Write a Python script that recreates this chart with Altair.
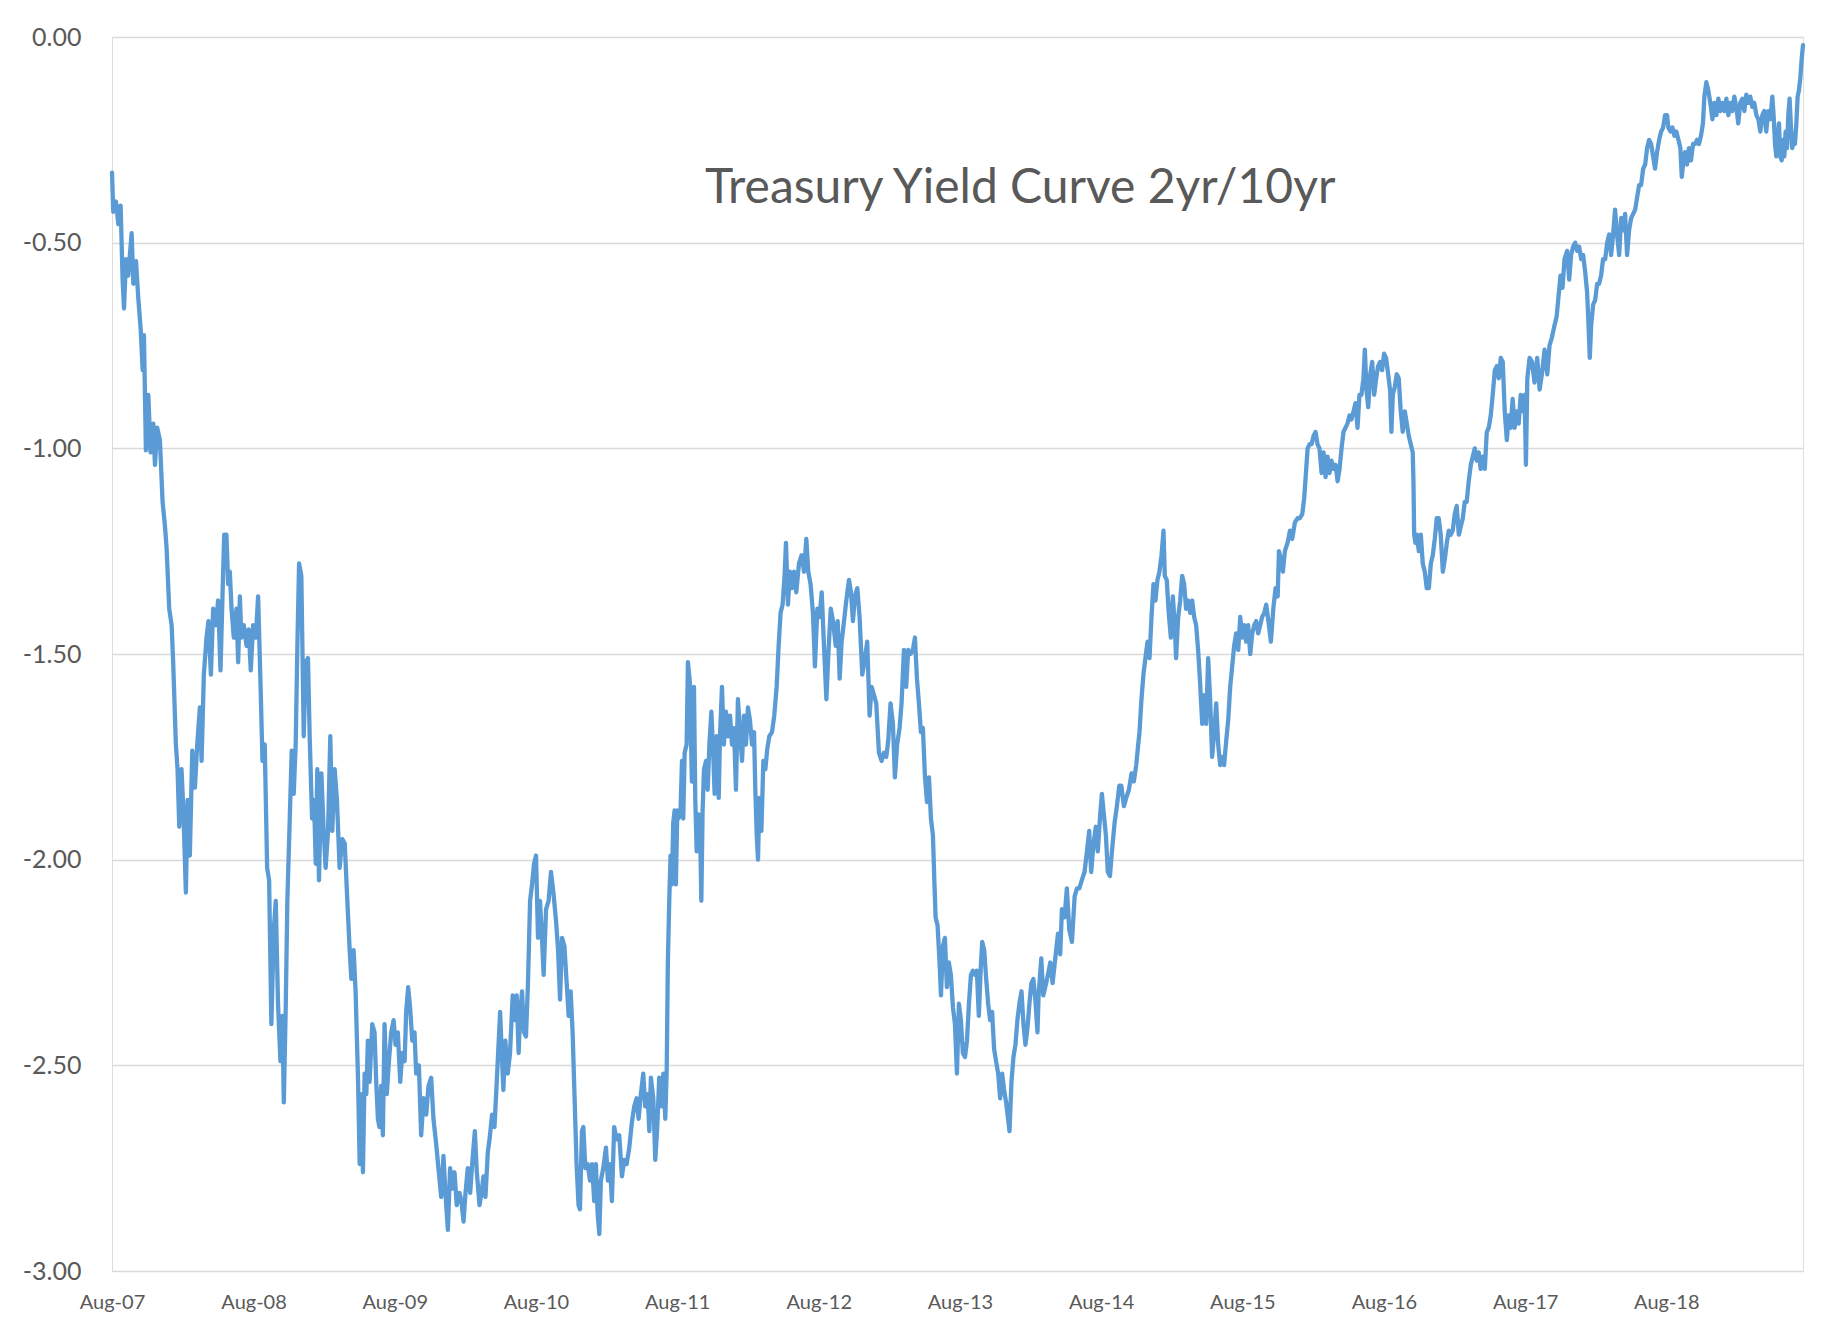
import altair as alt
import pandas as pd
import numpy as np

# Years elapsed since 1 Aug 2007 (T) and 2yr-minus-10yr spread (V)
T1 = [0.0,0.009,0.028,0.045,0.061,0.075,0.085,0.099,0.115,0.139,
      0.151,0.170,0.186,0.203,0.217,0.226,0.240,0.257,0.273,0.292,
      0.304,0.320,0.339,0.358,0.375,0.386,0.405,0.422,0.433,0.452,
      0.464,0.476,0.492,0.504,0.523,0.535,0.551,0.568,0.587,0.603,
      0.622,0.634,0.650,0.669,0.683,0.700,0.716,0.735,0.751,0.768,
      0.782,0.794,0.810,0.822,0.834,0.846,0.862,0.881,0.893,0.905,
      0.916,0.933,0.952,0.968,0.982,0.999,1.018,1.034,1.051,1.065,
      1.081,1.098,1.112,1.128,1.145,1.159,1.175,1.192,1.206,1.216,
      1.230,1.241,1.258,1.272,1.286,1.300,1.312,1.324,1.340,1.357,
      1.371,1.387,1.399,1.416,1.430,1.442,1.453,1.465,1.482,1.498,
      1.512,1.529,1.545,1.559,1.576,1.592,1.611,1.630,1.647,1.663]
V1 = [-0.33,-0.425,-0.40,-0.455,-0.41,-0.59,-0.66,-0.54,-0.58,-0.477,
      -0.60,-0.545,-0.635,-0.71,-0.81,-0.725,-1.005,-0.87,-1.01,-0.94,
      -1.04,-0.95,-0.98,-1.13,-1.19,-1.24,-1.39,-1.43,-1.52,-1.72,
      -1.78,-1.92,-1.78,-1.87,-2.08,-1.855,-1.99,-1.735,-1.825,-1.72,
      -1.63,-1.76,-1.55,-1.46,-1.42,-1.55,-1.39,-1.43,-1.37,-1.54,
      -1.36,-1.21,-1.21,-1.33,-1.30,-1.39,-1.46,-1.39,-1.52,-1.36,
      -1.46,-1.43,-1.48,-1.44,-1.54,-1.43,-1.46,-1.36,-1.57,-1.76,
      -1.72,-2.02,-2.05,-2.40,-2.17,-2.10,-2.35,-2.49,-2.38,-2.59,
      -2.35,-2.10,-1.90,-1.735,-1.84,-1.72,-1.48,-1.28,-1.31,-1.70,
      -1.52,-1.51,-1.70,-1.90,-1.855,-2.01,-1.78,-2.05,-1.79,-1.93,
      -2.02,-1.93,-1.70,-1.93,-1.78,-1.855,-2.02,-1.95,-1.96,-2.08]

T2 = [1.682,1.694,1.710,1.724,1.741,1.753,1.764,1.776,1.788,1.800,
      1.811,1.823,1.842,1.858,1.870,1.882,1.893,1.905,1.917,1.929,
      1.945,1.960,1.976,1.993,2.007,2.023,2.040,2.054,2.071,2.082,
      2.096,2.110,2.125,2.141,2.153,2.172,2.188,2.205,2.224,2.240,
      2.259,2.275,2.294,2.313,2.330,2.346,2.360,2.377,2.393,2.408,
      2.424,2.440,2.459,2.473,2.488,2.502,2.518,2.535,2.549,2.568,
      2.582,2.601,2.615,2.629,2.643,2.660,2.672,2.690,2.707,2.723,
      2.737,2.747,2.761,2.770,2.784,2.801,2.817,2.836,2.850,2.864,
      2.878,2.888,2.902,2.916,2.930,2.944,2.959,2.973,2.987,3.001,
      3.015,3.029,3.043,3.055,3.072,3.090,3.107,3.124,3.143,3.157,
      3.171,3.185,3.202,3.218,3.232,3.246,3.260,3.274,3.288,3.302]
V2 = [-2.22,-2.29,-2.22,-2.32,-2.53,-2.74,-2.57,-2.76,-2.52,-2.57,
      -2.44,-2.54,-2.40,-2.42,-2.54,-2.63,-2.65,-2.55,-2.67,-2.40,
      -2.57,-2.49,-2.42,-2.39,-2.45,-2.42,-2.54,-2.47,-2.49,-2.37,
      -2.31,-2.36,-2.44,-2.42,-2.52,-2.50,-2.67,-2.58,-2.62,-2.55,
      -2.53,-2.63,-2.69,-2.76,-2.82,-2.72,-2.81,-2.90,-2.75,-2.80,
      -2.76,-2.84,-2.81,-2.83,-2.88,-2.81,-2.75,-2.81,-2.74,-2.66,
      -2.76,-2.84,-2.81,-2.77,-2.82,-2.71,-2.68,-2.62,-2.65,-2.54,
      -2.44,-2.37,-2.49,-2.56,-2.44,-2.52,-2.47,-2.33,-2.39,-2.33,
      -2.47,-2.38,-2.32,-2.42,-2.43,-2.30,-2.10,-2.06,-2.01,-1.99,
      -2.19,-2.10,-2.19,-2.28,-2.12,-2.10,-2.03,-2.08,-2.15,-2.22,
      -2.34,-2.19,-2.21,-2.30,-2.38,-2.32,-2.42,-2.58,-2.74,-2.84]

T3 = [3.312,3.326,3.336,3.350,3.366,3.383,3.397,3.413,3.425,3.437,
      3.449,3.460,3.477,3.496,3.510,3.524,3.538,3.554,3.571,3.590,
      3.609,3.625,3.642,3.661,3.679,3.696,3.713,3.727,3.743,3.760,
      3.774,3.791,3.803,3.814,3.831,3.845,3.859,3.873,3.888,3.902,
      3.916,3.926,3.934,3.944,3.953,3.963,3.972,3.982,3.991,4.001,
      4.010,4.024,4.034,4.043,4.053,4.067,4.076,4.090,4.104,4.119,
      4.128,4.138,4.152,4.161,4.171,4.180,4.190,4.204,4.216,4.228,
      4.242,4.256,4.265,4.279,4.294,4.303,4.317,4.331,4.345,4.360,
      4.374,4.388,4.402,4.416,4.430,4.445,4.459,4.473,4.487,4.501,
      4.515,4.530,4.544,4.553,4.563,4.572,4.582,4.596,4.610,4.624,
      4.638,4.652,4.671,4.687,4.704,4.718,4.732,4.746,4.760,4.770,
      4.784,4.798,4.812,4.827,4.843,4.862,4.881,4.898,4.914]
V3 = [-2.85,-2.66,-2.65,-2.75,-2.74,-2.78,-2.74,-2.83,-2.74,-2.86,
      -2.91,-2.78,-2.75,-2.70,-2.78,-2.74,-2.83,-2.65,-2.68,-2.67,
      -2.77,-2.73,-2.74,-2.70,-2.64,-2.60,-2.58,-2.63,-2.57,-2.52,
      -2.60,-2.57,-2.66,-2.53,-2.58,-2.73,-2.65,-2.53,-2.60,-2.52,
      -2.63,-2.51,-2.25,-2.10,-1.99,-2.06,-1.91,-1.88,-2.06,-1.88,
      -1.90,-1.88,-1.76,-1.90,-1.74,-1.72,-1.52,-1.57,-1.81,-1.58,
      -1.85,-1.98,-1.89,-1.90,-2.10,-1.88,-1.78,-1.76,-1.83,-1.72,
      -1.64,-1.75,-1.84,-1.70,-1.85,-1.70,-1.58,-1.72,-1.64,-1.70,
      -1.65,-1.72,-1.68,-1.83,-1.61,-1.69,-1.76,-1.65,-1.72,-1.63,
      -1.66,-1.72,-1.69,-1.83,-1.94,-2.00,-1.85,-1.93,-1.76,-1.78,
      -1.73,-1.70,-1.69,-1.65,-1.58,-1.48,-1.40,-1.38,-1.31,-1.23,
      -1.38,-1.30,-1.34,-1.30,-1.35,-1.28,-1.26,-1.30,-1.22]

T4 = [4.928,4.944,4.961,4.975,4.992,5.008,5.023,5.039,5.056,5.070,
      5.087,5.103,5.122,5.136,5.150,5.164,5.181,5.197,5.216,5.230,
      5.244,5.258,5.275,5.291,5.310,5.329,5.345,5.362,5.376,5.393,
      5.409,5.428,5.447,5.463,5.480,5.494,5.510,5.527,5.541,5.557,
      5.574,5.588,5.605,5.621,5.635,5.652,5.668,5.683,5.697,5.711,
      5.725,5.739,5.754,5.768,5.782,5.796,5.810,5.820,5.829,5.843,
      5.857,5.867,5.881,5.895,5.909,5.923,5.937,5.952,5.966,5.980,
      5.994,6.008,6.022,6.037,6.051,6.065,6.079,6.093,6.107,6.121,
      6.135,6.149,6.159,6.173,6.187,6.201,6.215,6.229,6.243,6.257,
      6.272,6.286,6.300,6.314,6.328,6.342,6.352,6.366,6.380,6.394,
      6.408,6.422,6.437,6.451,6.465,6.479,6.493,6.507,6.521,6.535,
      6.550]
V4 = [-1.30,-1.33,-1.40,-1.53,-1.39,-1.41,-1.35,-1.48,-1.61,-1.50,
      -1.39,-1.42,-1.48,-1.42,-1.56,-1.47,-1.42,-1.37,-1.32,-1.35,
      -1.42,-1.36,-1.34,-1.41,-1.55,-1.51,-1.47,-1.65,-1.58,-1.60,
      -1.62,-1.74,-1.76,-1.74,-1.75,-1.71,-1.62,-1.67,-1.80,-1.72,
      -1.68,-1.62,-1.49,-1.58,-1.49,-1.50,-1.49,-1.46,-1.56,-1.62,
      -1.69,-1.68,-1.80,-1.86,-1.80,-1.90,-1.94,-2.05,-2.14,-2.16,
      -2.25,-2.33,-2.21,-2.19,-2.31,-2.25,-2.28,-2.36,-2.40,-2.52,
      -2.35,-2.39,-2.47,-2.48,-2.44,-2.35,-2.28,-2.27,-2.28,-2.27,
      -2.38,-2.26,-2.20,-2.22,-2.29,-2.35,-2.39,-2.37,-2.46,-2.49,
      -2.52,-2.58,-2.52,-2.56,-2.59,-2.63,-2.66,-2.54,-2.48,-2.45,
      -2.39,-2.35,-2.32,-2.40,-2.45,-2.41,-2.35,-2.30,-2.29,-2.34,
      -2.42]

T5 = [6.558,6.577,6.591,6.605,6.624,6.641,6.657,6.676,6.695,6.711,
      6.723,6.742,6.758,6.775,6.794,6.813,6.829,6.846,6.864,6.883,
      6.900,6.916,6.930,6.947,6.963,6.977,6.994,7.006,7.020,7.034,
      7.048,7.063,7.077,7.096,7.112,7.129,7.143,7.162,7.178,7.197,
      7.216,7.232,7.249,7.263,7.272,7.286,7.300,7.314,7.329,7.343,
      7.357,7.371,7.385,7.399,7.413,7.428,7.442,7.451,7.465,7.479,
      7.494,7.508,7.522,7.531,7.546,7.560,7.574,7.588,7.602,7.616,
      7.631,7.645,7.659,7.673,7.687,7.701,7.716,7.730,7.744,7.758,
      7.772,7.786,7.801,7.815,7.829,7.843,7.857,7.871,7.886,7.900,
      7.914,7.928,7.942,7.956,7.971,7.985,7.999,8.013,8.027,8.041,
      8.056,8.070,8.084,8.098,8.112,8.126,8.140,8.155,8.169]
V5 = [-2.33,-2.24,-2.33,-2.31,-2.28,-2.25,-2.30,-2.24,-2.18,-2.23,
      -2.12,-2.14,-2.07,-2.17,-2.20,-2.09,-2.07,-2.07,-2.05,-2.03,
      -1.98,-1.93,-2.03,-1.96,-1.92,-1.98,-1.89,-1.84,-1.89,-1.94,
      -2.03,-2.04,-1.98,-1.91,-1.87,-1.82,-1.82,-1.87,-1.85,-1.83,
      -1.79,-1.81,-1.77,-1.72,-1.69,-1.61,-1.55,-1.51,-1.47,-1.51,
      -1.41,-1.33,-1.37,-1.32,-1.30,-1.26,-1.20,-1.31,-1.32,-1.40,
      -1.46,-1.36,-1.43,-1.51,-1.41,-1.37,-1.31,-1.33,-1.39,-1.37,
      -1.40,-1.37,-1.41,-1.43,-1.49,-1.57,-1.67,-1.60,-1.67,-1.51,
      -1.61,-1.75,-1.69,-1.62,-1.72,-1.77,-1.75,-1.77,-1.71,-1.66,
      -1.58,-1.53,-1.48,-1.45,-1.49,-1.41,-1.46,-1.43,-1.47,-1.43,
      -1.50,-1.45,-1.43,-1.42,-1.45,-1.43,-1.41,-1.40,-1.38]

T6 = [8.188,8.202,8.219,8.235,8.250,8.259,8.273,8.287,8.301,8.320,
      8.337,8.353,8.372,8.391,8.407,8.424,8.438,8.452,8.462,8.476,
      8.490,8.504,8.518,8.532,8.546,8.561,8.575,8.589,8.603,8.617,
      8.631,8.645,8.660,8.674,8.688,8.702,8.716,8.730,8.744,8.758,
      8.772,8.787,8.801,8.815,8.829,8.843,8.857,8.867,8.879,8.891,
      8.905,8.919,8.933,8.947,8.961,8.975,8.989,9.003,9.017,9.032,
      9.046,9.055,9.065,9.079,9.093,9.107,9.121,9.135,9.150,9.164,
      9.178,9.192,9.206,9.211,9.216,9.225,9.235,9.249,9.263,9.277,
      9.291,9.305,9.320,9.334,9.348,9.362,9.376,9.390,9.404,9.419,
      9.433,9.447,9.461,9.475,9.489,9.503,9.517,9.532,9.546,9.560,
      9.574,9.588,9.602,9.617,9.631,9.645,9.659,9.673,9.687,9.702,
      9.716,9.730,9.744,9.758,9.772,9.787,9.801,9.815,9.829,9.843,
      9.857,9.872]
V6 = [-1.43,-1.47,-1.39,-1.34,-1.36,-1.25,-1.27,-1.30,-1.25,-1.23,
      -1.20,-1.22,-1.18,-1.17,-1.17,-1.16,-1.12,-1.05,-1.00,-0.99,
      -0.99,-0.97,-0.96,-0.99,-1.00,-1.06,-1.01,-1.07,-1.02,-1.06,
      -1.03,-1.05,-1.04,-1.08,-1.05,-1.00,-0.96,-0.95,-0.94,-0.92,
      -0.93,-0.91,-0.89,-0.95,-0.87,-0.87,-0.83,-0.76,-0.86,-0.90,
      -0.82,-0.79,-0.87,-0.83,-0.80,-0.79,-0.81,-0.77,-0.78,-0.82,
      -0.86,-0.96,-0.87,-0.85,-0.82,-0.83,-0.91,-0.96,-0.91,-0.94,
      -0.97,-0.99,-1.01,-1.08,-1.21,-1.23,-1.21,-1.25,-1.21,-1.28,
      -1.30,-1.34,-1.34,-1.28,-1.26,-1.22,-1.17,-1.17,-1.21,-1.30,
      -1.27,-1.23,-1.20,-1.21,-1.20,-1.16,-1.14,-1.21,-1.19,-1.17,
      -1.13,-1.13,-1.08,-1.04,-1.02,-1.00,-1.03,-1.01,-1.05,-1.02,
      -1.05,-0.96,-0.95,-0.92,-0.87,-0.81,-0.80,-0.83,-0.78,-0.79,
      -0.91,-0.98]

T7 = [9.885,9.899,9.913,9.927,9.941,9.956,9.970,9.984,9.998,10.007,
      10.017,10.033,10.050,10.068,10.087,10.104,10.120,10.139,10.158,10.174,
      10.191,10.210,10.224,10.238,10.252,10.266,10.280,10.299,10.313,10.327,
      10.341,10.356,10.370,10.384,10.398,10.412,10.426,10.440,10.450,10.459,
      10.469,10.483,10.497,10.511,10.525,10.539,10.553,10.568,10.582,10.596,
      10.610,10.624,10.638,10.652,10.667,10.681,10.695,10.709,10.723,10.737,
      10.752,10.766,10.780,10.794,10.808,10.822,10.837,10.851,10.865,10.879,
      10.893,10.907,10.921,10.935,10.950,10.964,10.978,10.992,11.006,11.015,
      11.030,11.044,11.058,11.072,11.086,11.100,11.110,11.119,11.133,11.147,
      11.161,11.175,11.190,11.204,11.218,11.232,11.246,11.260,11.270,11.284,
      11.298,11.312,11.327,11.341,11.355,11.369,11.383,11.397,11.411,11.426,
      11.440,11.454,11.468,11.482,11.496,11.510,11.524,11.539,11.553,11.567,
      11.581,11.595,11.609,11.623,11.638,11.652,11.666,11.680,11.694,11.708,
      11.722,11.737,11.751,11.760,11.770,11.779,11.788,11.798,11.807,11.817,
      11.826,11.836,11.845,11.855,11.864,11.873,11.883,11.892,11.902,11.911,
      11.921,11.930,11.939,11.949,11.958,11.968]
V7 = [-0.92,-0.95,-0.88,-0.95,-0.91,-0.94,-0.87,-0.91,-0.87,-1.04,
      -0.83,-0.78,-0.79,-0.84,-0.78,-0.857,-0.82,-0.76,-0.82,-0.75,
      -0.73,-0.70,-0.68,-0.63,-0.58,-0.61,-0.54,-0.52,-0.59,-0.53,
      -0.51,-0.50,-0.52,-0.51,-0.54,-0.53,-0.57,-0.62,-0.70,-0.78,
      -0.70,-0.65,-0.64,-0.60,-0.60,-0.58,-0.54,-0.54,-0.50,-0.48,
      -0.53,-0.48,-0.42,-0.48,-0.53,-0.44,-0.47,-0.43,-0.53,-0.47,
      -0.44,-0.43,-0.42,-0.39,-0.36,-0.36,-0.32,-0.31,-0.27,-0.25,
      -0.26,-0.29,-0.32,-0.28,-0.25,-0.23,-0.22,-0.19,-0.19,-0.22,
      -0.23,-0.22,-0.24,-0.23,-0.25,-0.27,-0.34,-0.31,-0.28,-0.31,
      -0.27,-0.30,-0.26,-0.26,-0.25,-0.26,-0.24,-0.21,-0.145,-0.11,
      -0.13,-0.16,-0.20,-0.16,-0.19,-0.15,-0.18,-0.16,-0.18,-0.15,
      -0.19,-0.16,-0.18,-0.145,-0.17,-0.21,-0.16,-0.15,-0.18,-0.14,
      -0.16,-0.145,-0.17,-0.16,-0.19,-0.20,-0.23,-0.19,-0.18,-0.23,
      -0.18,-0.20,-0.145,-0.19,-0.26,-0.29,-0.25,-0.21,-0.29,-0.30,
      -0.25,-0.29,-0.23,-0.27,-0.19,-0.15,-0.22,-0.27,-0.25,-0.26,
      -0.21,-0.145,-0.13,-0.10,-0.056,-0.02]

TITLE = "Treasury Yield Curve 2yr/10yr"
Y_TICKS = [0.0, -0.5, -1.0, -1.5, -2.0, -2.5, -3.0]
X_TICK_YEARS = list(range(2007, 2019))

pairs = []
for ts, vs in [(T1, V1), (T2, V2), (T3, V3), (T4, V4), (T5, V5), (T6, V6), (T7, V7)]:
    pairs.extend(zip(ts, vs))
t_arr = np.array([p[0] for p in pairs])
v_arr = np.array([p[1] for p in pairs])
dates = pd.Timestamp("2007-08-01") + pd.to_timedelta(t_arr * 365.25, unit="D")
df = pd.DataFrame({"date": dates, "spread": v_arr})

FONT = "Lato"
GREY = "#595959"

chart = alt.Chart(df).mark_line(
    color="#5B9BD5", strokeWidth=4.3, strokeJoin="round", strokeCap="round"
).encode(
    x=alt.X("date:T",
            scale=alt.Scale(nice=False),
            axis=alt.Axis(title=None,
                          values=[alt.DateTime(year=y, month=8, date=1) for y in X_TICK_YEARS],
                          format="%b-%y", grid=False, domain=False, ticks=False,
                          labelFont=FONT, labelFontSize=20, labelColor=GREY,
                          labelPadding=21, labelFlush=False, labelOverlap=False)),
    y=alt.Y("spread:Q",
            scale=alt.Scale(domain=[-3, 0], nice=False, zero=False),
            axis=alt.Axis(title=None, values=Y_TICKS,
                          labelExpr="replace(format(datum.value, '.2f'), '\u2212', '-')",
                          grid=True, gridColor="#D9D9D9", gridWidth=1.4,
                          domain=False, ticks=False,
                          labelFont=FONT, labelFontSize=25, labelColor=GREY,
                          labelPadding=31)),
).properties(
    width=1691, height=1234,
    autosize=alt.AutoSizeParams(type="none"),
    padding={"left": 104, "top": 29, "right": 11, "bottom": 45},
    title=alt.TitleParams(text=TITLE, anchor="start", frame="group", orient="top",
                          dx=593, dy=226, offset=0, baseline="alphabetic",
                          font=FONT, fontSize=48, fontWeight="normal", color=GREY),
).configure_view(stroke=None).configure(background="white")

chart.save("out.html", embed_options={"renderer": "svg", "actions": False})
